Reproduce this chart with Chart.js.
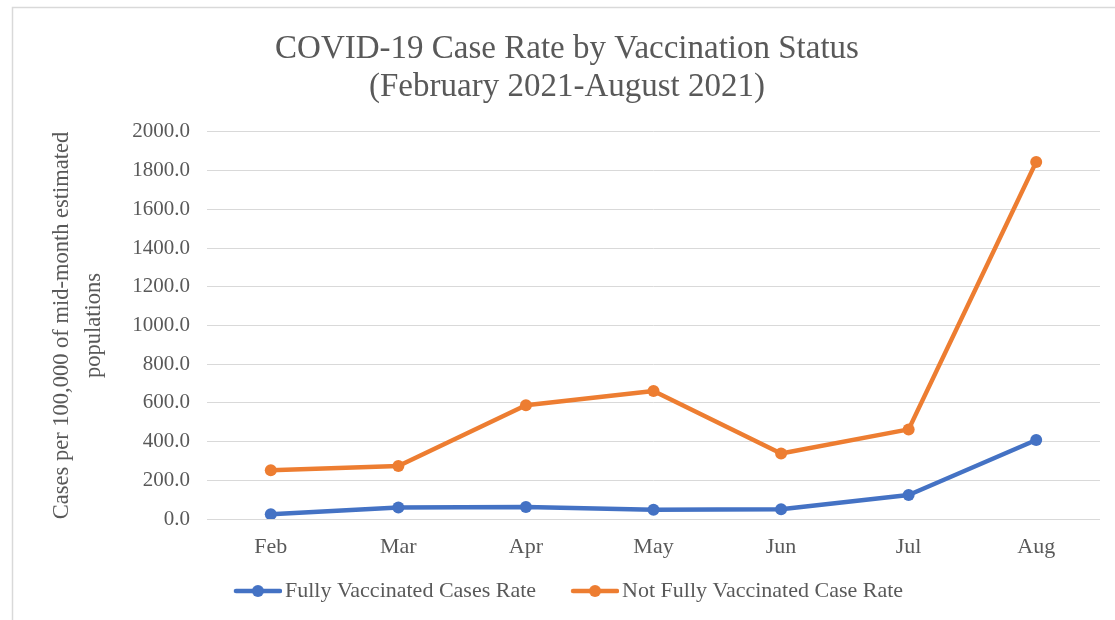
<!DOCTYPE html>
<html>
<head>
<meta charset="utf-8">
<script src="https://cdn.jsdelivr.net/npm/chart.js@4/dist/chart.umd.min.js"></script>
<style>
  html, body { margin: 0; padding: 0; background: #ffffff; }
  #wrap { width: 1115px; height: 620px; position: relative; }
</style>
</head>
<body>
<div id="wrap"><canvas id="chart" width="1115" height="620"></canvas></div>
<script>
// Monthly case rates per 100,000 (Feb–Aug 2021)
const months = ['Feb', 'Mar', 'Apr', 'May', 'Jun', 'Jul', 'Aug'];
const fullyVaccinated = [24, 59, 62, 48, 50, 124, 408];
const notFullyVaccinated = [252, 274, 588, 661, 338, 463, 1845];
const seriesNames = ['Fully Vaccinated Cases Rate', 'Not Fully Vaccinated Case Rate'];
const titleLines = ['COVID-19 Case Rate by Vaccination Status', '(February 2021-August 2021)'];
const yTitleLines = ['Cases per 100,000 of mid-month estimated', 'populations'];

const BLUE = '#4472C4';
const ORANGE = '#ED7D31';
const TEXT = '#595959';
const GRID = '#d9d9d9';
const SERIF = '"Liberation Serif", "Times New Roman", serif';

// Legend swatch: short line with a round marker, drawn in the right part
// of a wider transparent image so items get extra spacing on their left
const SWATCH_BOX = 65;
function legendSwatch(color) {
  const c = document.createElement('canvas');
  c.width = 81; c.height = 14;
  const g = c.getContext('2d');
  g.strokeStyle = color; g.lineWidth = 4.5; g.lineCap = 'round';
  g.beginPath(); g.moveTo(35, 7); g.lineTo(79, 7); g.stroke();
  g.fillStyle = color;
  g.beginPath(); g.arc(57, 7, 6, 0, Math.PI * 2); g.fill();
  return c;
}

// White background plus a light frame along the top and left edges
const framePlugin = {
  id: 'frame',
  beforeDraw(chart) {
    const ctx = chart.ctx;
    ctx.save();
    ctx.fillStyle = '#ffffff';
    ctx.fillRect(0, 0, chart.width, chart.height);
    ctx.strokeStyle = GRID;
    ctx.lineWidth = 1.5;
    ctx.beginPath();
    ctx.moveTo(12.5, chart.height);
    ctx.lineTo(12.5, 7.5);
    ctx.lineTo(chart.width, 7.5);
    ctx.stroke();
    ctx.restore();
  }
};

// Nudge the legend row and the title a little to the left of the layout centre
const boxShift = {
  id: 'boxShift',
  afterLayout(chart) {
    const lg = chart.legend;
    if (lg) { lg.left -= 17; lg.right -= 17; }
    const tb = chart.titleBlock;
    if (tb) { tb.left -= 6; tb.right -= 6; }
  }
};

new Chart(document.getElementById('chart'), {
  type: 'line',
  data: {
    labels: months,
    datasets: [
      { label: seriesNames[0], data: fullyVaccinated, borderColor: BLUE, backgroundColor: BLUE },
      { label: seriesNames[1], data: notFullyVaccinated, borderColor: ORANGE, backgroundColor: ORANGE }
    ]
  },
  options: {
    responsive: false,
    animation: false,
    devicePixelRatio: 1,
    layout: { padding: { left: 46, right: 15, top: 22, bottom: 8 } },
    elements: {
      line: { borderWidth: 4.5, tension: 0, borderCapStyle: 'round', borderJoinStyle: 'round' },
      point: { radius: 6, hoverRadius: 6, borderWidth: 0, pointStyle: 'circle' }
    },
    plugins: {
      title: {
        display: true,
        text: titleLines,
        color: TEXT,
        font: { family: SERIF, size: 33, weight: 'normal', lineHeight: 1.15 },
        padding: { top: 8, bottom: 26 }
      },
      legend: {
        position: 'bottom',
        labels: {
          usePointStyle: true,
          pointStyleWidth: SWATCH_BOX,
          color: TEXT,
          font: { family: SERIF, size: 22 },
          padding: 10,
          generateLabels(chart) {
            return chart.data.datasets.map((ds, i) => ({
              text: ds.label,
              fillStyle: ds.borderColor,
              strokeStyle: ds.borderColor,
              fontColor: TEXT,
              pointStyle: legendSwatch(ds.borderColor),
              datasetIndex: i,
              lineWidth: 0,
              hidden: false
            }));
          }
        }
      },
      tooltip: { enabled: false }
    },
    scales: {
      x: {
        offset: true,
        grid: { display: false },
        border: { display: false },
        ticks: { color: TEXT, font: { family: SERIF, size: 22 }, padding: 7 },
        afterFit(scale) { scale.height = 51; }
      },
      y: {
        min: 0,
        max: 2000,
        grid: { color: GRID, lineWidth: 1, drawTicks: false },
        border: { display: false },
        ticks: {
          stepSize: 200,
          color: TEXT,
          padding: 17,
          font: { family: SERIF, size: 21 },
          callback: v => Number(v).toFixed(1)
        },
        title: {
          display: true,
          text: yTitleLines,
          color: TEXT,
          font: { family: SERIF, size: 22.5, lineHeight: 1.42 },
          padding: { top: 0, bottom: 10 }
        },
        afterFit(scale) { scale.width = 161; }
      }
    }
  },
  plugins: [framePlugin, boxShift]
});
</script>
</body>
</html>
